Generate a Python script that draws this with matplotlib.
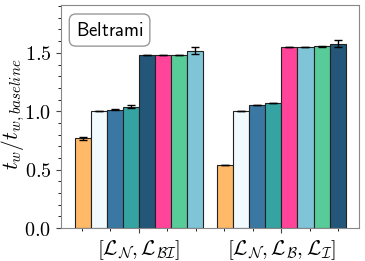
import matplotlib
matplotlib.use("Agg")
import matplotlib.pyplot as plt
import matplotlib.ticker as mticker

plt.rcParams["mathtext.fontset"] = "cm"

# data
groups = [r"$[\mathcal{L}_\mathcal{N}, \mathcal{L}_{\mathcal{BI}}]$",
          r"$[\mathcal{L}_\mathcal{N}, \mathcal{L}_\mathcal{B}, \mathcal{L}_\mathcal{I}]$"]

ORANGE = "#ffb967"
LIGHT  = "#f0faff"
BLUE   = "#3a78a3"
TEAL   = "#36a3a3"
NAVY   = "#235678"
PINK   = "#ff4499"
GREEN  = "#58cc98"
SKY    = "#80c4d8"

vals_1 = [0.77, 1.0, 1.015, 1.04, 1.48, 1.48, 1.48, 1.52]
errs_1 = [0.012, 0.0, 0.004, 0.015, 0.002, 0.0, 0.002, 0.03]
cols_1 = [ORANGE, LIGHT, BLUE, TEAL, NAVY, PINK, GREEN, SKY]

vals_2 = [0.54, 1.0, 1.055, 1.07, 1.55, 1.55, 1.555, 1.58]
errs_2 = [0.002, 0.0, 0.002, 0.002, 0.002, 0.004, 0.006, 0.03]
cols_2 = [ORANGE, LIGHT, BLUE, TEAL, PINK, SKY, GREEN, NAVY]

fig = plt.figure(figsize=(3.65, 2.61), dpi=100)
ax = fig.add_axes([0.167, 0.126, 0.817, 0.855])

w = 0.9 / 8
for g, (vals, errs, cols) in enumerate([(vals_1, errs_1, cols_1), (vals_2, errs_2, cols_2)]):
    for i, (v, e, c) in enumerate(zip(vals, errs, cols)):
        x = g - 0.45 + w * (i + 0.5)
        ax.bar(x, v, w, color=c, edgecolor="#222222", lw=0.8,
               yerr=e, capsize=3, error_kw=dict(ecolor="black", elinewidth=1, capthick=1))

ax.set_ylim(0, 1.91)
ax.set_xticks([0, 1])
ax.set_xticklabels(groups, fontsize=15)
ax.xaxis.set_minor_locator(mticker.AutoMinorLocator())
ax.yaxis.set_major_locator(mticker.MultipleLocator(0.5))
ax.yaxis.set_minor_locator(mticker.MultipleLocator(0.1))
ax.yaxis.set_major_formatter(mticker.FuncFormatter(lambda v, p: f"${v:.1f}$"))
ax.tick_params(axis="y", labelsize=14.5)
ax.tick_params(colors="#444444", labelcolor="black")
ax.set_ylabel(r"$t_w/t_{w,baseline}$", fontsize=15.5)
ax.yaxis.set_label_coords(-0.115, 0.51)
for s in ax.spines.values():
    s.set_color("#888888")

ax.text(0.05, 0.93, r"$\mathsf{Beltrami}$", transform=ax.transAxes, fontsize=13.5,
        va="top", ha="left",
        bbox=dict(boxstyle="round,pad=0.35", fc="white", ec="#999999"))

fig.savefig("out.png", dpi=100)
